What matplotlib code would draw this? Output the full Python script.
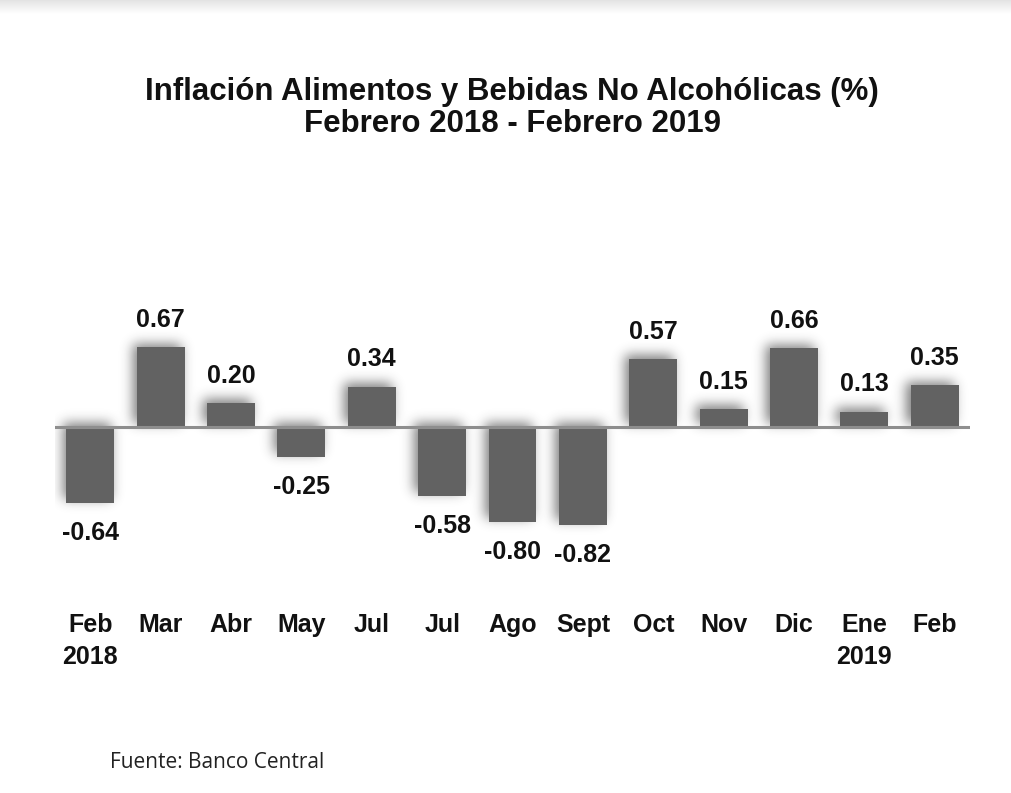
import matplotlib
matplotlib.use("Agg")
import matplotlib.pyplot as plt
import matplotlib.transforms as mtransforms
import numpy as np

categories = ["Feb\n2018", "Mar", "Abr", "May", "Jul", "Jul", "Ago", "Sept",
              "Oct", "Nov", "Dic", "Ene\n2019", "Feb"]
values = [-0.64, 0.67, 0.20, -0.25, 0.34, -0.58, -0.80, -0.82,
          0.57, 0.15, 0.66, 0.13, 0.35]
labels = ["%.2f" % v for v in values]
title = "Inflación Alimentos y Bebidas No Alcohólicas (%)\nFebrero 2018 - Febrero 2019"
source = "Fuente: Banco Central"

W, H = 1011, 793
DPI = 100
fig = plt.figure(figsize=(W / DPI, H / DPI), dpi=DPI)
fig.patch.set_facecolor("white")

# top grey fade band
band = fig.add_axes([0, 1 - 14 / H, 1, 14 / H])
grad = np.linspace(0.89, 1.0, 50).reshape(-1, 1)
band.imshow(np.repeat(grad, 2, axis=1), cmap="gray", vmin=0, vmax=1,
            aspect="auto", extent=[0, 1, 0, 1])
band.axis("off")

# main axes: x from 55 to 970 px, zero line at y=427 px, 119 px per unit
left_px, right_px = 55, 970
zero_px, ppu = 427, 119.0
ylo, yhi = -1.0, 1.0
top_px = zero_px - yhi * ppu
bot_px = zero_px - ylo * ppu
ax = fig.add_axes([left_px / W, 1 - bot_px / H, (right_px - left_px) / W,
                   (bot_px - top_px) / H])
n = len(values)
ax.set_xlim(-0.5, n - 0.5)
ax.set_ylim(ylo, yhi)
ax.axis("off")

x = np.arange(n)
bw = 0.68

# soft blurred shadow, offset up-left
nx = int(right_px - left_px)
ny = int(bot_px - top_px)
xs = np.linspace(-0.5, n - 0.5, nx)
ys = np.linspace(yhi, ylo, ny)
XX, YY = np.meshgrid(xs, ys)
dx = 4 * n / nx
dy = 4 / ppu
mask = np.zeros_like(XX)
for xi, v in zip(x, values):
    lo, hi = min(0, v), max(0, v)
    inside = ((XX >= xi - bw / 2 - dx) & (XX <= xi + bw / 2 - dx) &
              (YY >= lo + dy) & (YY <= hi + dy))
    mask[inside] = 1.0
sig = 6.0
kx = np.arange(-20, 21)
ker = np.exp(-kx ** 2 / (2 * sig ** 2))
ker /= ker.sum()
blur = np.apply_along_axis(lambda r: np.convolve(r, ker, mode="same"), 1, mask)
blur = np.apply_along_axis(lambda c: np.convolve(c, ker, mode="same"), 0, blur)
rgba = np.zeros((ny, nx, 4))
rgba[..., :3] = 0.15
rgba[..., 3] = np.clip(blur * 0.6, 0, 1)
ax.imshow(rgba, extent=[-0.5, n - 0.5, ylo, yhi], aspect="auto", zorder=1,
          interpolation="bilinear")

ax.bar(x, values, width=bw, color="#626262", edgecolor="none", zorder=3)
ax.axhline(0, color="#8e8e8e", lw=2.2, zorder=4)

for xi, v, lab in zip(x, values, labels):
    if v >= 0:
        ax.annotate(lab, (xi, v), xytext=(0, 11), textcoords="offset points",
                    ha="center", va="bottom", fontsize=18, fontweight="bold",
                    family="Liberation Sans", color="#111111", zorder=5)
    else:
        ax.annotate(lab, (xi, v), xytext=(0, -13), textcoords="offset points",
                    ha="center", va="top", fontsize=18, fontweight="bold",
                    family="Liberation Sans", color="#111111", zorder=5)

# category labels
trans = mtransforms.blended_transform_factory(ax.transData, fig.transFigure)
for xi, c in zip(x, categories):
    ax.text(xi, 1 - 613 / H, c, transform=trans, ha="center", va="top",
            fontsize=18, fontweight="bold", family="Liberation Sans",
            color="#111111", linespacing=1.42)

fig.text(512 / W, 1 - 77 / H, title, ha="center", va="top", fontsize=22.5,
         fontweight="bold", family="Liberation Sans", color="#111111",
         linespacing=1.1)
fig.text(110 / W, 1 - 763 / H, source, ha="left", va="center", fontsize=15,
         family="Open Sans", color="#222222")

fig.savefig("out.png", dpi=DPI, facecolor="white")
